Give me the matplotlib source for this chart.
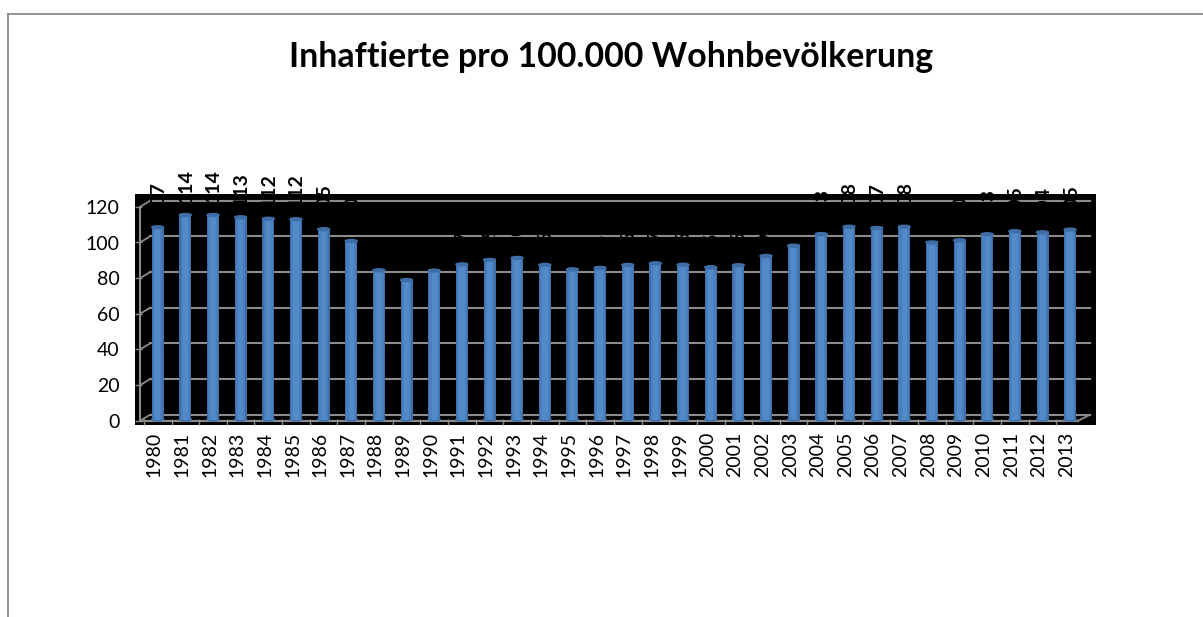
import numpy as np
import matplotlib
matplotlib.use("Agg")
import matplotlib.pyplot as plt
from matplotlib.lines import Line2D
from matplotlib.patches import Ellipse

# values (bar tops) and the printed labels
years = list(range(1980, 2014))
values = [107.8, 114.7, 114.7, 113.4, 112.6, 112.3, 106.7, 100.1, 83.7, 78.2, 83.5, 87.0,
          89.5, 90.6, 86.7, 84.2, 85.0, 86.7, 87.6, 86.8, 85.4, 86.5, 91.7, 97.5,
          104.0, 108.1, 107.4, 108.1, 99.3, 100.5, 103.9, 105.6, 105.0, 106.5]
labels = [107, 114, 114, 113, 112, 112, 105, 100, 83, 78, 83, 87,
          89, 90, 86, 84, 85, 86, 87, 86, 85, 86, 91, 97,
          103, 108, 107, 108, 99, 100, 103, 105, 104, 105]
y_ticks = [0, 20, 40, 60, 80, 100, 120]
title = "Inhaftierte pro 100.000 Wohnbevölkerung"

W, H = 1203, 617
plt.rcParams["font.family"] = ["Lato", "DejaVu Sans"]

fig = plt.figure(figsize=(W / 100, H / 100), dpi=100)

# black plot box in pixels
left, right, top, bottom = 135, 1096, 194, 425
ax = fig.add_axes([left / W, 1 - bottom / H, (right - left) / W, (bottom - top) / H])
ax.set_facecolor("black")

# pixel scale of the value axis and the year axis
py = 1.783
y0 = 419.5
x0 = 157.7
dx = 27.65
ax.set_xlim((left - x0) / dx, (right - x0) / dx)
ax.set_ylim((y0 - bottom) / py, (y0 - top) / py)

x = np.arange(len(years))
vals = np.array(values)
grid_col = "#8c8c8c"

# the 3D look: back wall sits up and right of the front axis
back_dy = 4.7 / py
front_dy = -1.3 / py
back_x0 = (150 - x0) / dx
back_x1 = (1090 - x0) / dx
front_x0 = (140 - x0) / dx
front_x1 = (1078 - x0) / dx

for t in y_ticks:
    ax.plot([back_x0, back_x1], [t + back_dy] * 2, color=grid_col, lw=1.5, zorder=1)
    ax.plot([front_x0, back_x0], [t + front_dy, t + back_dy], color=grid_col, lw=1.3, zorder=1)
ax.plot([front_x0, front_x0], [front_dy, 120 + front_dy], color=grid_col, lw=1.5, zorder=1)
ax.plot([front_x0, front_x1], [front_dy, front_dy], color=grid_col, lw=1.5, zorder=1)
ax.plot([front_x1, back_x1], [front_dy, back_dy], color=grid_col, lw=1.3, zorder=1)

# cylinders, darker at the edge
bar_w = 12 / dx
ax.bar(x, vals, width=bar_w, color="#3f6da6", zorder=2)
ax.bar(x, vals, width=bar_w * 0.8, color="#4a7fbe", zorder=2.1)
ax.bar(x, vals, width=bar_w * 0.45, color="#5289c9", zorder=2.2)
for xi, v in zip(x, vals):
    ax.add_patch(Ellipse((xi, 0), bar_w, 3.0 / py, color="#3f6da6", zorder=1.9))
    ax.add_patch(Ellipse((xi, v), bar_w, 3.0 / py, color="#3f6ea6", zorder=2.3))

# black labels only show above the box, and cut gaps in the grid lines
for xi, v, lab in zip(x, vals, labels):
    ax.annotate(str(lab), (xi, v), xytext=(0.5, 8.5), textcoords="offset points",
                rotation=90, ha="center", va="bottom", fontsize=14, fontweight="bold",
                color="black", zorder=3, annotation_clip=False)

ax.set_yticks(np.array(y_ticks) + front_dy, [str(t) for t in y_ticks])
ax.set_xticks(x - 0.5, [""] * len(x), minor=False)
ax.tick_params(axis="y", length=5, width=1, color=grid_col, labelsize=14, pad=11, direction="in")
ax.tick_params(axis="x", length=4, width=1, color=grid_col, direction="in")
for s in ax.spines.values():
    s.set_visible(False)

for xi, yr in zip(x, years):
    ax.annotate(str(yr), (xi, 0), xytext=(-2.5, -(bottom - y0 + 7) * 0.72), textcoords="offset points",
                rotation=90, ha="center", va="top", fontsize=14, color="black",
                annotation_clip=False)

fig.text(611 / W, 1 - 57 / H, title, ha="center", va="center", fontsize=24.4, fontweight="bold")

# chart frame, cut off by the screenshot at right and bottom
fig.add_artist(Line2D([8 / W, 8 / W], [0, 1 - 13.5 / H], color="#8a8a8a", lw=1.3))
fig.add_artist(Line2D([8 / W, 1], [1 - 13.5 / H] * 2, color="#8a8a8a", lw=1.3))

fig.savefig("out.png", dpi=100)
